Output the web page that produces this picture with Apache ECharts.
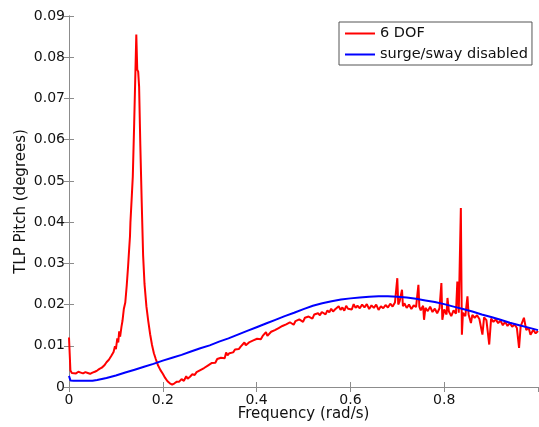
<!DOCTYPE html>
<html>
<head>
<meta charset="utf-8">
<script src="https://cdn.jsdelivr.net/npm/echarts@6/dist/echarts.min.js"></script>
<style>html,body{margin:0;padding:0;background:#fff}#c{width:539px;height:427px}</style>
</head>
<body>
<div id="c"></div>
<script>
// Series names
const seriesNames = ['6 DOF', 'surge/sway disabled'];
// Axis tick labels
const xTicks = [0, 0.2, 0.4, 0.6, 0.8, 1];
const yTicks = [0, 0.01, 0.02, 0.03, 0.04, 0.05, 0.06, 0.07, 0.08, 0.09];

// 6 DOF: [frequency (rad/s), pitch (deg)]
const red6dof = [
[0.000,0.0120],[0.003,0.0040],[0.006,0.0034],[0.010,0.0036],[0.015,0.0033],[0.020,0.0037],[0.025,0.0035],
[0.030,0.0033],[0.035,0.0036],[0.040,0.0034],[0.045,0.0032],[0.050,0.0035],[0.055,0.0037],[0.060,0.0040],
[0.065,0.0044],[0.070,0.0047],[0.075,0.0052],[0.080,0.0060],[0.085,0.0066],[0.090,0.0075],[0.095,0.0085],
[0.098,0.0099],[0.100,0.0092],[0.103,0.0118],[0.105,0.0108],[0.107,0.0135],[0.109,0.0122],[0.112,0.0147],
[0.114,0.0160],[0.117,0.0190],[0.120,0.0205],[0.123,0.0245],[0.126,0.0293],[0.128,0.0330],[0.130,0.0365],
[0.131,0.0400],[0.134,0.0465],[0.136,0.0510],[0.139,0.0640],[0.1435,0.0855],[0.1455,0.0770],[0.1475,0.0765],
[0.1495,0.0728],[0.152,0.0590],[0.155,0.0450],[0.158,0.0320],[0.161,0.0250],[0.165,0.0196],[0.169,0.0160],
[0.173,0.0128],[0.177,0.0102],[0.181,0.0082],[0.185,0.0068],[0.190,0.0052],[0.195,0.0041],[0.200,0.0032],
[0.205,0.0022],[0.210,0.0014],[0.215,0.0009],[0.220,0.0006],[0.225,0.0009],[0.230,0.0013],
[0.235,0.0013],[0.240,0.0019],[0.245,0.0015],[0.250,0.0026],[0.253,0.0020],[0.258,0.0025],[0.263,0.0031],
[0.268,0.0029],[0.272,0.0036],[0.276,0.0035],[0.280,0.0041],[0.284,0.0038],[0.288,0.0046],[0.292,0.0047],
[0.296,0.0052],[0.300,0.0050],[0.304,0.0058],[0.308,0.0061],[0.312,0.0059],[0.316,0.0068],[0.320,0.0066],
[0.324,0.0071],[0.328,0.0074],[0.332,0.0070],[0.335,0.0084],[0.338,0.0077],[0.342,0.0082],[0.346,0.0086],
[0.350,0.0084],[0.354,0.0091],[0.358,0.0095],[0.362,0.0092],[0.366,0.0098],[0.370,0.0097],[0.374,0.0108],
[0.377,0.0101],[0.381,0.0104],[0.385,0.0109],[0.389,0.0107],[0.393,0.0113],[0.397,0.0110],[0.401,0.0117],
[0.405,0.0119],[0.409,0.0116],[0.413,0.0124],[0.417,0.0121],[0.420,0.0133],[0.423,0.0124],[0.427,0.0128],
[0.431,0.0134],[0.435,0.0130],[0.439,0.0138],[0.443,0.0136],[0.447,0.0143],[0.451,0.0141],[0.455,0.0148],
[0.459,0.0145],[0.463,0.0152],[0.467,0.0149],[0.471,0.0157],[0.475,0.0153],[0.479,0.0151],[0.483,0.0160],
[0.487,0.0157],[0.491,0.0164],[0.495,0.0161],[0.499,0.0158],[0.503,0.0168],[0.507,0.0165],[0.511,0.0171],
[0.515,0.0169],[0.519,0.0166],[0.523,0.0176],[0.527,0.0172],[0.531,0.0179],[0.535,0.0174],[0.539,0.0182],
[0.543,0.0178],[0.547,0.0176],[0.551,0.0186],[0.555,0.0181],[0.559,0.0190],[0.563,0.0183],[0.567,0.0188],
[0.571,0.0184],[0.575,0.0196],[0.579,0.0187],[0.583,0.0193],[0.587,0.0185],[0.591,0.0197],[0.595,0.0190],
[0.599,0.0194],[0.603,0.0188],[0.607,0.0201],[0.611,0.0192],[0.615,0.0197],
[0.620,0.0191],[0.625,0.0200],[0.630,0.0193],[0.635,0.0201],[0.640,0.0189],[0.645,0.0198],[0.650,0.0192],
[0.655,0.0200],[0.660,0.0187],[0.665,0.0196],[0.670,0.0191],[0.675,0.0199],[0.680,0.0193],[0.685,0.0202],
[0.690,0.0195],[0.695,0.0205],[0.700,0.0264],[0.702,0.0200],[0.705,0.0208],[0.710,0.0236],[0.712,0.0196],
[0.715,0.0203],[0.720,0.0192],[0.725,0.0200],[0.730,0.0189],[0.735,0.0198],[0.740,0.0194],[0.745,0.0248],
[0.747,0.0195],[0.750,0.0186],[0.755,0.0197],[0.757,0.0163],[0.760,0.0192],[0.765,0.0184],[0.770,0.0195],
[0.775,0.0182],[0.780,0.0190],[0.785,0.0179],[0.790,0.0191],[0.794,0.0252],[0.796,0.0163],[0.800,0.0188],
[0.805,0.0176],[0.807,0.0216],[0.810,0.0183],[0.815,0.0172],[0.820,0.0186],[0.825,0.0178],[0.828,0.0256],
[0.831,0.0180],[0.8355,0.0434],[0.8377,0.0127],[0.840,0.0180],[0.845,0.0172],[0.8496,0.0220],[0.852,0.0176],
[0.857,0.0155],[0.860,0.0175],[0.865,0.0168],[0.870,0.0174],[0.875,0.0165],[0.8815,0.0127],[0.885,0.0169],
[0.890,0.0162],[0.896,0.0103],[0.900,0.0166],[0.905,0.0158],[0.910,0.0164],[0.915,0.0155],[0.920,0.0161],
[0.925,0.0150],[0.930,0.0158],[0.935,0.0148],[0.940,0.0155],[0.945,0.0146],[0.950,0.0152],[0.955,0.0143],
[0.9596,0.0095],[0.963,0.0147],[0.970,0.0168],[0.975,0.0138],[0.980,0.0144],[0.984,0.0127],[0.990,0.0139],
[0.995,0.0130],[1.000,0.0136]
];

// surge/sway disabled: [frequency (rad/s), pitch (deg)]
const blueSurgeSwayOff = [
[0.000,0.0027],[0.003,0.0016],[0.010,0.0015],[0.020,0.0015],[0.030,0.0015],[0.040,0.0015],[0.050,0.0015],
[0.060,0.0017],[0.080,0.0022],[0.100,0.0028],[0.120,0.0035],[0.140,0.0042],[0.160,0.0049],[0.180,0.0056],
[0.200,0.0064],[0.220,0.0071],[0.240,0.0078],[0.260,0.0086],[0.280,0.0094],[0.300,0.0101],[0.320,0.0110],
[0.340,0.0118],[0.360,0.0127],[0.380,0.0136],[0.400,0.0145],[0.420,0.0154],[0.440,0.0163],[0.460,0.0172],
[0.480,0.0180],[0.500,0.0189],[0.520,0.0197],[0.540,0.0203],[0.560,0.0208],[0.580,0.0212],[0.600,0.0215],
[0.620,0.0217],[0.640,0.0219],[0.660,0.0220],[0.680,0.0220],[0.700,0.0219],[0.720,0.0217],[0.740,0.0214],
[0.760,0.0210],[0.780,0.0206],[0.800,0.0201],[0.820,0.0195],[0.840,0.0189],[0.860,0.0183],[0.880,0.0176],
[0.900,0.0170],[0.920,0.0163],[0.940,0.0156],[0.960,0.0150],[0.980,0.0144],[1.000,0.0138]
];

const FONT = '"DejaVu Sans", "Liberation Sans", Arial, sans-serif';
const axisGray = '#8c8c8c';
const txt = '#111';

const chart = echarts.init(document.getElementById('c'), null, {renderer: 'canvas'});
const fmtY = v => { const r = Math.round(v * 100) / 100; return r === 0 ? '0' : r.toFixed(2); };
const fmtX = v => { const r = Math.round(v * 10) / 10; return r === 0 ? '0' : String(r); };

const common = {
  min: 0,
  axisLine: {show: true, lineStyle: {color: axisGray, width: 1}},
  axisTick: {show: true, inside: true, length: 5, lineStyle: {color: axisGray}},
  splitLine: {show: false}
};

chart.setOption({
  animation: false,
  backgroundColor: '#fff',
  textStyle: {fontFamily: FONT},
  grid: {left: 69, right: 1, top: 16, bottom: 40, containLabel: false, outerBoundsMode: 'none'},
  legend: {
    data: seriesNames,
    orient: 'vertical',
    left: 339, top: 22,
    padding: [4, 4, 3, 6],
    itemGap: 6,
    itemWidth: 30, itemHeight: 2,
    icon: 'path://M0,0H30V2H0Z',
    borderColor: '#555', borderWidth: 1,
    backgroundColor: '#fff',
    borderRadius: 0,
    textStyle: {fontFamily: FONT, fontSize: 14.5, color: txt}
  },
  xAxis: [
    Object.assign({}, common, {
      type: 'value', position: 'bottom', max: xTicks[xTicks.length - 1], interval: 0.2,
      name: 'Frequency (rad/s)', nameLocation: 'middle', nameGap: 20, nameMoveOverlap: false,
      nameTextStyle: {fontFamily: FONT, fontSize: 15, color: txt},
      axisLabel: {show: true, margin: 6, fontFamily: FONT, fontSize: 14, color: txt, formatter: fmtX, showMaxLabel: false}
    }),
    Object.assign({}, common, {
      type: 'value', position: 'top', max: xTicks[xTicks.length - 1], interval: 0.2,
      axisLabel: {show: false}
    })
  ],
  yAxis: [
    Object.assign({}, common, {
      type: 'value', position: 'left', max: yTicks[yTicks.length - 1], interval: 0.01,
      name: 'TLP Pitch (degrees)', nameLocation: 'middle', nameGap: 40, nameMoveOverlap: false,
      nameTextStyle: {fontFamily: FONT, fontSize: 15, color: txt},
      axisLabel: {show: true, margin: 4, fontFamily: FONT, fontSize: 14, color: txt, formatter: fmtY}
    }),
    Object.assign({}, common, {
      type: 'value', position: 'right', max: yTicks[yTicks.length - 1], interval: 0.01,
      axisLabel: {show: false}
    })
  ],
  series: [
    {
      name: seriesNames[0], type: 'line', xAxisIndex: 0, yAxisIndex: 0,
      data: red6dof, symbol: 'none', showSymbol: false,
      lineStyle: {color: '#ff0000', width: 2}, itemStyle: {color: '#ff0000'},
      z: 3
    },
    {
      name: seriesNames[1], type: 'line', xAxisIndex: 0, yAxisIndex: 0,
      data: blueSurgeSwayOff, symbol: 'none', showSymbol: false,
      lineStyle: {color: '#0000ff', width: 2}, itemStyle: {color: '#0000ff'},
      z: 4
    }
  ]
});
</script>
</body>
</html>
